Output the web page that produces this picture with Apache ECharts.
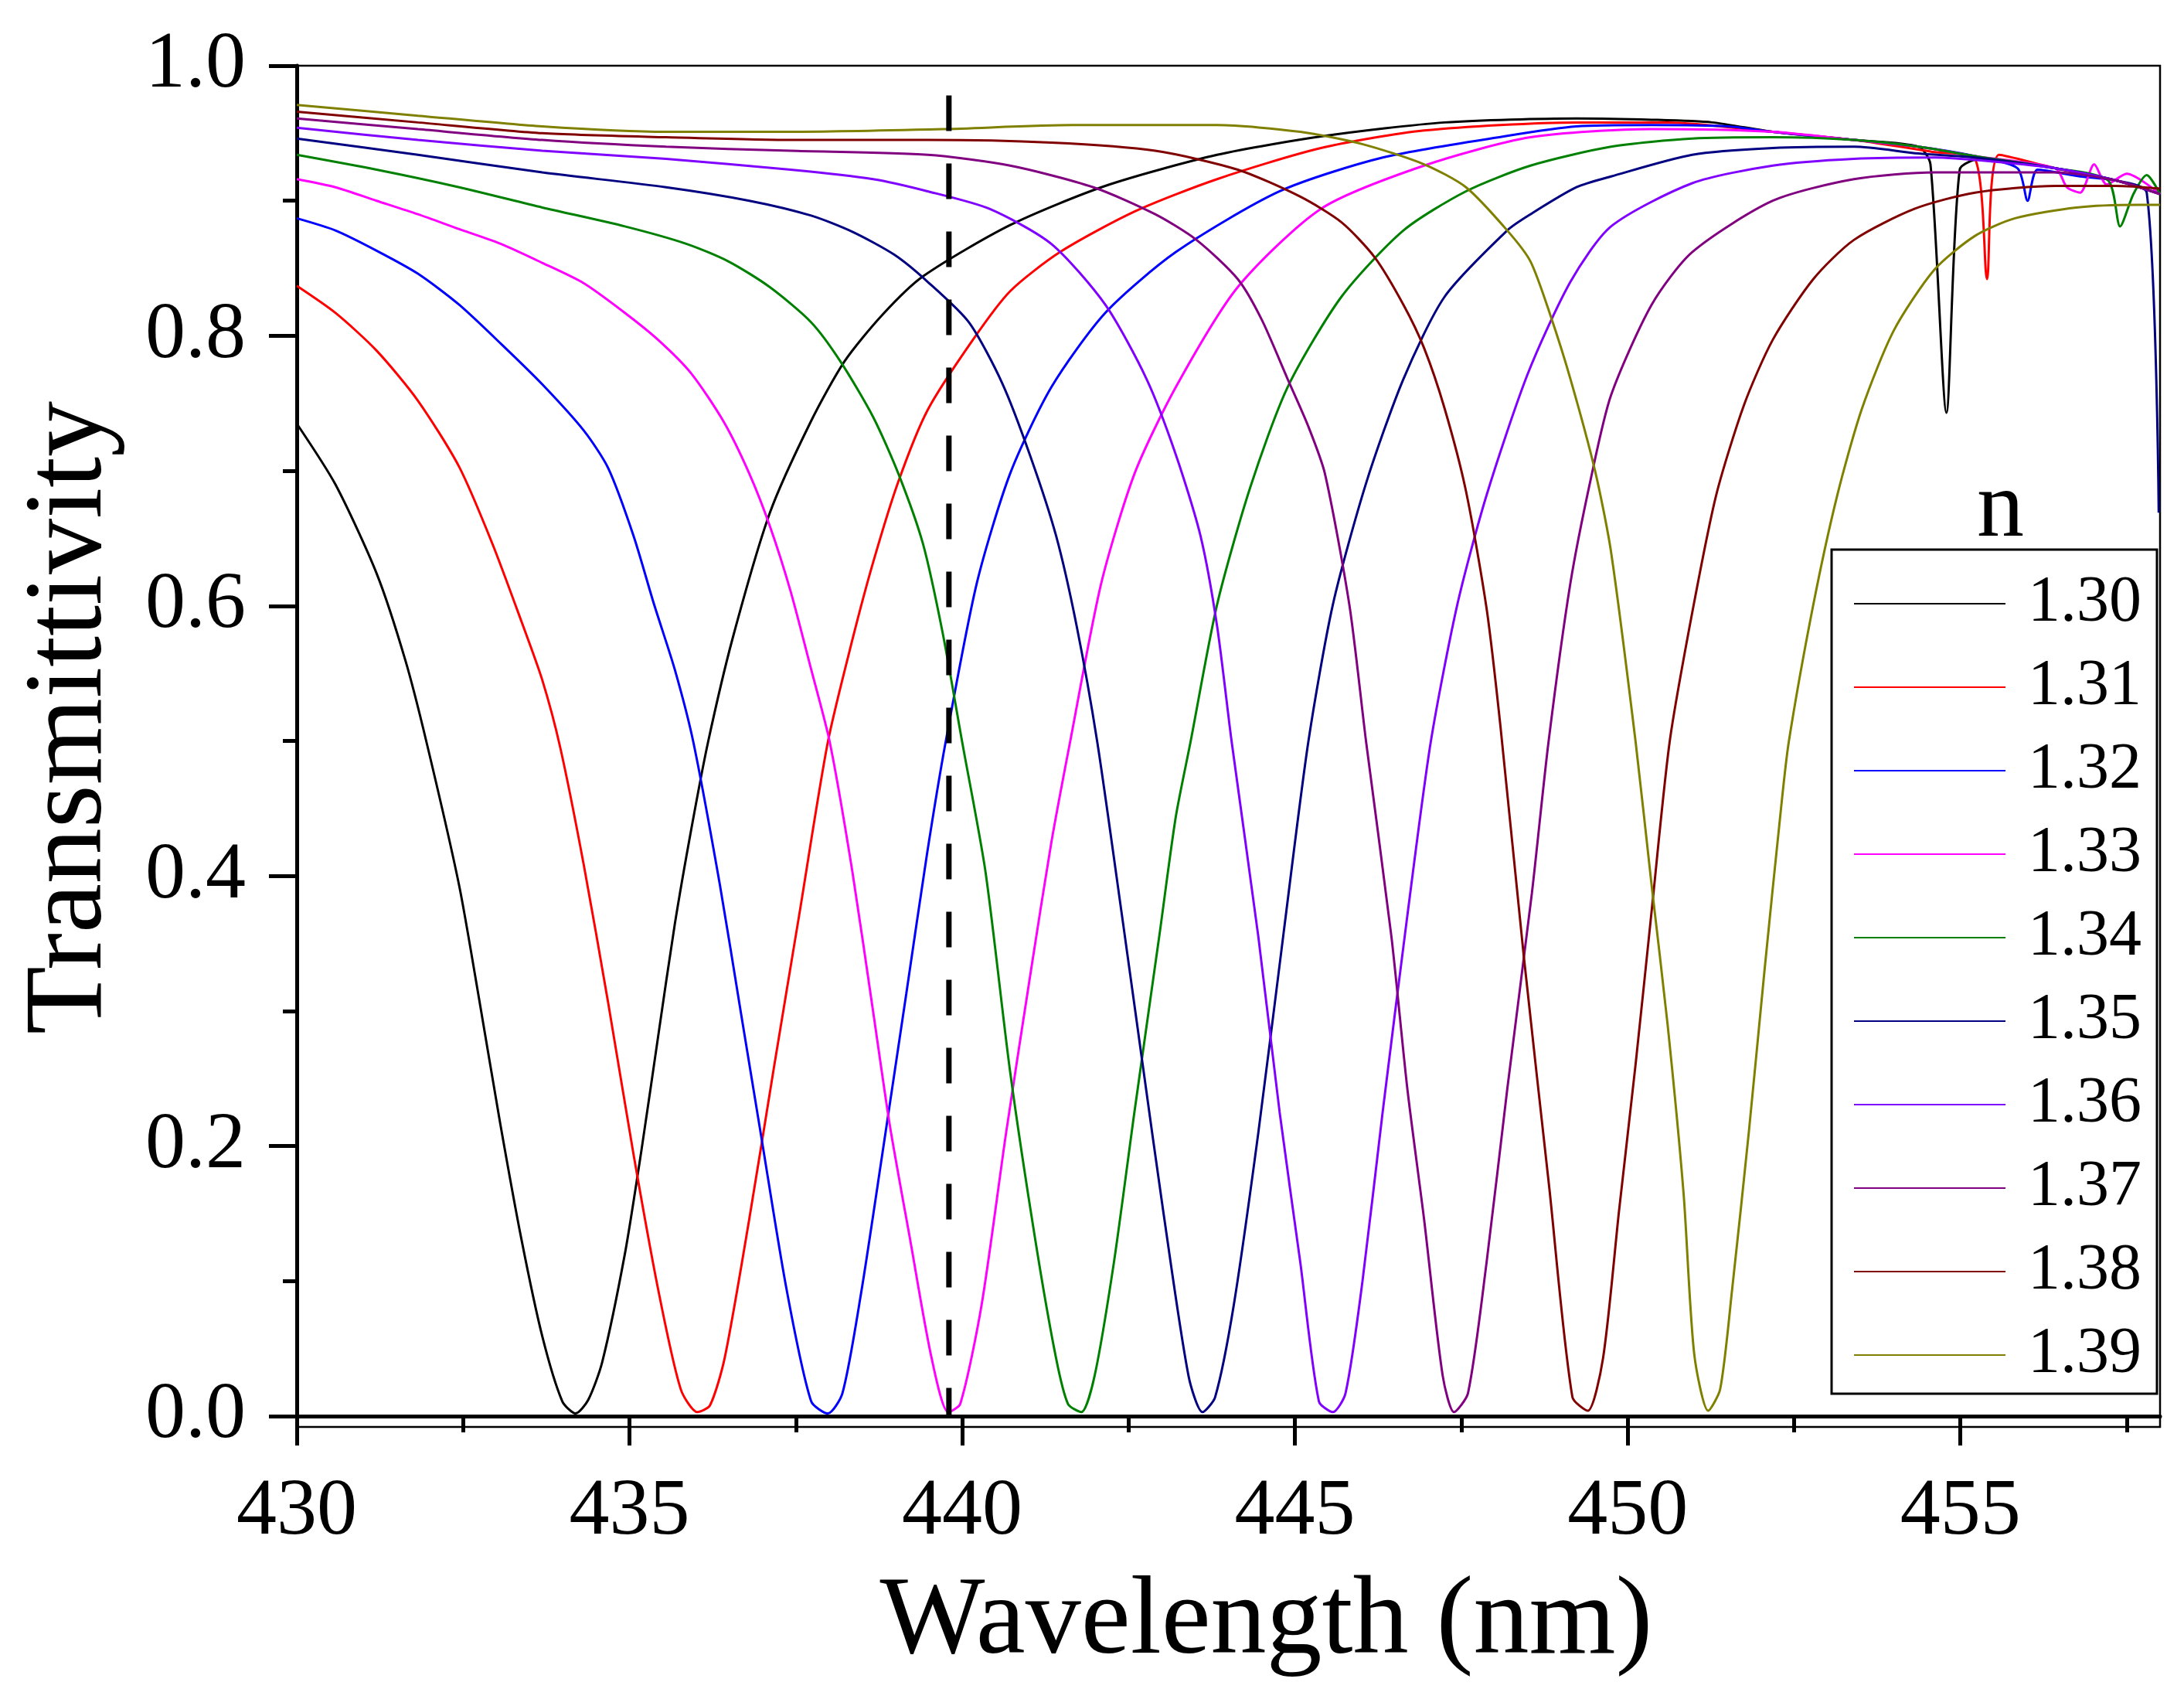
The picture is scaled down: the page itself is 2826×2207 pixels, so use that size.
<!DOCTYPE html>
<html>
<head>
<meta charset="utf-8">
<title>Transmittivity</title>
<script src="https://cdn.jsdelivr.net/npm/echarts@6/dist/echarts.min.js"></script>
<style>
    html, body {margin: 0; padding: 0; background: #fff;}
    #main {width: 2826px; height: 2207px;}
</style>
</head>
<body>
<div id="main"></div>
<script>
// legend names (refractive index n)
var nLabels = ['1.30', '1.31', '1.32', '1.33', '1.34', '1.35', '1.36', '1.37', '1.38', '1.39'];

// wavelength (nm) / transmittivity per curve
var wl130 = [430.0, 430.58, 431.2, 431.63, 431.95, 432.44, 432.75, 433.06, 433.38, 433.69, 433.99, 434.19, 434.38, 434.59, 434.93, 435.18, 435.43, 435.68, 435.93, 436.18, 436.55, 437.11, 437.73, 438.23, 438.79, 439.41, 440.72, 442.15, 443.83, 445.45, 447.25, 449.23, 450.36, 451.27, 452.18, 453.4, 454.37, 454.55, 454.79, 454.99, 455.3, 456.43, 457.34, 458.0];
var tr130 = [0.735, 0.690, 0.624, 0.560, 0.499, 0.393, 0.306, 0.216, 0.130, 0.059, 0.011, 0.002, 0.012, 0.040, 0.120, 0.197, 0.281, 0.364, 0.435, 0.499, 0.576, 0.669, 0.737, 0.781, 0.815, 0.844, 0.882, 0.911, 0.934, 0.948, 0.958, 0.961, 0.960, 0.958, 0.951, 0.945, 0.940, 0.927, 0.743, 0.923, 0.931, 0.924, 0.915, 0.905];

var wl131 = [430.0, 430.58, 431.2, 431.82, 432.44, 432.94, 433.38, 433.69, 433.96, 434.31, 434.68, 435.06, 435.43, 435.77, 436.02, 436.21, 436.43, 436.8, 437.17, 437.55, 437.98, 438.35, 438.66, 439.04, 439.48, 440.16, 440.72, 441.47, 442.59, 443.83, 445.39, 446.94, 449.23, 450.6, 452.18, 453.4, 454.61, 455.22, 455.4, 455.58, 456.43, 457.34, 458.0];
var tr131 = [0.837, 0.817, 0.789, 0.752, 0.703, 0.646, 0.588, 0.545, 0.495, 0.409, 0.306, 0.194, 0.094, 0.020, 0.003, 0.008, 0.043, 0.146, 0.258, 0.371, 0.499, 0.575, 0.632, 0.692, 0.745, 0.797, 0.833, 0.862, 0.892, 0.916, 0.939, 0.952, 0.958, 0.958, 0.951, 0.945, 0.936, 0.931, 0.842, 0.934, 0.924, 0.915, 0.905];

var wl132 = [430.0, 430.58, 431.2, 431.82, 432.44, 433.07, 433.69, 434.31, 434.68, 435.06, 435.37, 435.68, 435.96, 436.36, 436.67, 436.99, 437.36, 437.73, 437.98, 438.2, 438.48, 438.79, 439.16, 439.47, 439.75, 440.22, 440.72, 441.34, 442.15, 443.21, 444.77, 446.32, 448.19, 449.23, 450.36, 451.5, 452.18, 453.4, 454.37, 455.22, 455.86, 456.01, 456.16, 456.8, 457.34, 458.0];
var tr132 = [0.887, 0.878, 0.863, 0.846, 0.823, 0.794, 0.764, 0.730, 0.702, 0.652, 0.601, 0.553, 0.499, 0.393, 0.300, 0.204, 0.094, 0.011, 0.002, 0.017, 0.091, 0.191, 0.313, 0.416, 0.499, 0.617, 0.698, 0.762, 0.817, 0.862, 0.907, 0.932, 0.948, 0.955, 0.956, 0.955, 0.951, 0.945, 0.940, 0.933, 0.924, 0.900, 0.923, 0.918, 0.915, 0.905];

var wl133 = [430.0, 430.58, 431.2, 431.82, 432.44, 433.07, 433.69, 434.31, 434.93, 435.43, 435.93, 436.42, 436.8, 437.11, 437.42, 437.73, 438.01, 438.35, 438.66, 438.91, 439.22, 439.54, 439.79, 439.97, 440.29, 440.66, 441.03, 441.34, 441.62, 442.09, 442.59, 443.21, 444.14, 445.39, 446.94, 448.54, 450.36, 452.18, 453.4, 454.37, 455.22, 456.43, 456.6, 456.8, 457.01, 457.2, 457.5, 458.0];
var tr133 = [0.916, 0.910, 0.900, 0.890, 0.879, 0.868, 0.854, 0.839, 0.817, 0.797, 0.772, 0.736, 0.698, 0.659, 0.611, 0.553, 0.499, 0.403, 0.300, 0.216, 0.130, 0.043, 0.003, 0.009, 0.082, 0.210, 0.329, 0.425, 0.499, 0.617, 0.698, 0.762, 0.836, 0.894, 0.926, 0.947, 0.953, 0.951, 0.945, 0.940, 0.933, 0.924, 0.910, 0.906, 0.927, 0.912, 0.920, 0.905];

var wl134 = [430.0, 431.2, 432.44, 433.69, 434.93, 435.86, 436.49, 437.11, 437.73, 438.17, 438.66, 439.04, 439.41, 439.71, 440.0, 440.35, 440.72, 441.1, 441.41, 441.59, 441.79, 441.99, 442.28, 442.59, 442.96, 443.21, 443.43, 443.83, 444.33, 444.89, 445.7, 446.63, 447.57, 448.54, 449.75, 450.97, 452.18, 453.4, 454.37, 455.22, 456.43, 457.22, 457.4, 457.6, 457.8, 458.0];
var tr134 = [0.934, 0.923, 0.910, 0.895, 0.881, 0.868, 0.855, 0.836, 0.810, 0.781, 0.740, 0.698, 0.646, 0.579, 0.499, 0.403, 0.255, 0.130, 0.043, 0.009, 0.003, 0.030, 0.114, 0.226, 0.355, 0.444, 0.499, 0.601, 0.688, 0.762, 0.829, 0.878, 0.907, 0.926, 0.940, 0.946, 0.947, 0.945, 0.940, 0.933, 0.924, 0.915, 0.881, 0.905, 0.919, 0.905];

var wl135 = [430.0, 431.82, 433.69, 435.55, 436.8, 437.73, 438.35, 438.98, 439.48, 440.1, 440.6, 441.03, 441.41, 441.72, 442.03, 442.4, 442.71, 443.02, 443.4, 443.61, 443.8, 444.08, 444.45, 444.83, 445.2, 445.57, 446.07, 446.63, 447.25, 448.19, 448.54, 449.23, 449.75, 450.97, 452.18, 453.4, 454.37, 455.22, 456.43, 457.34, 457.8, 457.98];
var tr135 = [0.946, 0.934, 0.921, 0.910, 0.900, 0.889, 0.877, 0.860, 0.840, 0.810, 0.765, 0.710, 0.652, 0.585, 0.499, 0.371, 0.261, 0.152, 0.030, 0.003, 0.014, 0.082, 0.210, 0.358, 0.499, 0.601, 0.691, 0.768, 0.829, 0.878, 0.890, 0.910, 0.918, 0.934, 0.939, 0.940, 0.935, 0.932, 0.924, 0.915, 0.906, 0.669];

var wl136 = [430.0, 431.82, 433.69, 435.55, 437.42, 438.66, 439.48, 440.41, 441.34, 442.15, 442.77, 443.21, 443.58, 443.83, 444.05, 444.45, 444.77, 445.08, 445.36, 445.57, 445.76, 446.01, 446.32, 446.69, 447.04, 447.44, 447.88, 448.5, 449.14, 449.75, 450.97, 452.18, 453.4, 454.61, 455.5, 456.43, 457.34, 458.0];
var tr136 = [0.954, 0.945, 0.937, 0.931, 0.923, 0.916, 0.907, 0.894, 0.868, 0.823, 0.768, 0.712, 0.652, 0.585, 0.499, 0.355, 0.225, 0.114, 0.011, 0.003, 0.017, 0.098, 0.226, 0.371, 0.499, 0.601, 0.682, 0.772, 0.840, 0.881, 0.913, 0.926, 0.931, 0.932, 0.929, 0.924, 0.915, 0.905];

var wl137 = [430.0, 431.82, 433.69, 435.55, 437.42, 439.48, 440.72, 441.97, 442.9, 443.52, 444.14, 444.5, 444.89, 445.2, 445.45, 445.82, 446.07, 446.45, 446.69, 446.94, 447.22, 447.39, 447.6, 447.88, 448.19, 448.56, 448.81, 449.14, 449.45, 449.75, 450.36, 450.97, 452.18, 453.4, 454.61, 456.43, 457.34, 458.0];
var tr137 = [0.961, 0.953, 0.945, 0.940, 0.937, 0.934, 0.926, 0.910, 0.890, 0.871, 0.842, 0.812, 0.768, 0.733, 0.698, 0.600, 0.499, 0.355, 0.242, 0.146, 0.030, 0.003, 0.017, 0.114, 0.242, 0.387, 0.499, 0.617, 0.695, 0.756, 0.823, 0.862, 0.900, 0.916, 0.921, 0.921, 0.915, 0.905];

var wl138 = [430.0, 431.82, 433.69, 435.55, 437.42, 439.48, 441.34, 442.9, 444.14, 445.08, 445.7, 446.2, 446.63, 446.94, 447.25, 447.57, 447.88, 448.09, 448.44, 448.82, 449.17, 449.4, 449.63, 449.87, 450.12, 450.36, 450.63, 450.97, 451.33, 451.75, 452.18, 452.79, 453.4, 454.31, 455.22, 456.43, 457.34, 458.0];
var tr138 = [0.966, 0.958, 0.950, 0.947, 0.945, 0.945, 0.943, 0.937, 0.923, 0.903, 0.884, 0.858, 0.823, 0.791, 0.746, 0.685, 0.598, 0.510, 0.340, 0.170, 0.014, 0.004, 0.043, 0.152, 0.261, 0.374, 0.499, 0.595, 0.682, 0.749, 0.797, 0.842, 0.871, 0.894, 0.906, 0.911, 0.911, 0.909];

var wl139 = [430.0, 431.82, 433.69, 435.55, 437.42, 439.71, 441.65, 443.83, 445.08, 446.01, 446.94, 447.57, 448.19, 448.54, 448.84, 449.14, 449.51, 449.75, 450.12, 450.36, 450.6, 450.84, 451.0, 451.21, 451.39, 451.57, 451.82, 452.06, 452.3, 452.42, 452.79, 453.15, 453.52, 454.0, 454.61, 455.22, 455.82, 456.74, 457.65, 458.0];
var tr139 = [0.971, 0.963, 0.955, 0.951, 0.951, 0.953, 0.956, 0.956, 0.951, 0.942, 0.927, 0.910, 0.878, 0.855, 0.815, 0.768, 0.700, 0.640, 0.499, 0.393, 0.290, 0.165, 0.046, 0.004, 0.020, 0.094, 0.210, 0.332, 0.448, 0.499, 0.601, 0.682, 0.746, 0.804, 0.849, 0.874, 0.887, 0.895, 0.897, 0.897];

// vertical dashed reference line
var markWl = [439.8, 439.8];
var markTr = [0.978, 0.0];

// axis ticks
var xMajor = [430, 435, 440, 445, 450, 455];
var xMinor = [432.5, 437.5, 442.5, 447.5, 452.5, 457.5];
var yMajor = [0, 0.2, 0.4, 0.6, 0.8, 1.0];
var yMinor = [0.1, 0.3, 0.5, 0.7, 0.9];

var allWl = [wl130, wl131, wl132, wl133, wl134, wl135, wl136, wl137, wl138, wl139];
var allTr = [tr130, tr131, tr132, tr133, tr134, tr135, tr136, tr137, tr138, tr139];
var lineColors = ['#000000', '#ff0000', '#0000ff', '#ff00ff', '#008000', '#000080', '#8000ff', '#800080', '#800000', '#808000'];

var fontFam = '"Liberation Serif", "Times New Roman", serif';

function pairs(xs, ys) {
    var out = [];
    for (var i = 0; i < xs.length; i++) {
        out.push([xs[i], ys[i]]);
    }
    return out;
}

var seriesList = [];
for (var k = 0; k < nLabels.length; k++) {
    seriesList.push({
        name: nLabels[k],
        type: 'line',
        symbol: 'none',
        smooth: 0.25,
        data: pairs(allWl[k], allTr[k]),
        lineStyle: {width: 3, color: lineColors[k]},
        itemStyle: {color: lineColors[k]},
        z: 2
    });
}
seriesList.push({
    name: 'mark',
    type: 'line',
    symbol: 'none',
    data: pairs(markWl, markTr),
    lineStyle: {width: 7, color: '#000', type: [46, 42]},
    z: 5
});

var myChart = echarts.init(document.getElementById('main'));
myChart.setOption({
    animation: false,
    backgroundColor: '#fff',
    grid: {
        left: 384, right: 31, top: 85, bottom: 361,
        show: true,
        borderColor: '#000',
        borderWidth: 2.5
    },
    legend: {
        data: nLabels,
        orient: 'vertical',
        left: 2370,
        top: 711,
        padding: [28, 20, 8, 28],
        borderColor: '#000',
        borderWidth: 3,
        itemWidth: 196,
        itemHeight: 20,
        itemGap: 24,
        itemStyle: {opacity: 0},
        textStyle: {
            fontFamily: fontFam,
            fontSize: 84,
            lineHeight: 84,
            color: '#000',
            padding: [0, 0, 0, 24]
        }
    },
    graphic: [{
        type: 'text',
        left: 2558,
        top: 600,
        style: {
            text: 'n',
            fontFamily: fontFam,
            fontSize: 122,
            fill: '#000'
        }
    }],
    xAxis: [{
        type: 'value',
        min: 430,
        max: 458,
        position: 'bottom',
        name: 'Wavelength (nm)',
        nameLocation: 'middle',
        nameGap: 182,
        nameTextStyle: {fontFamily: fontFam, fontSize: 144, color: '#000', padding: [0, 0, 0, 98]},
        axisLine: {lineStyle: {color: '#000', width: 5}},
        axisTick: {customValues: xMajor, length: 38, lineStyle: {width: 5, color: '#000'}},
        axisLabel: {customValues: xMajor, margin: 59, fontFamily: fontFam, fontSize: 104, color: '#000'},
        splitLine: {show: false}
    }, {
        type: 'value',
        min: 430,
        max: 458,
        position: 'bottom',
        axisLine: {show: false},
        axisTick: {customValues: xMinor, length: 21, lineStyle: {width: 5, color: '#000'}},
        axisLabel: {show: false},
        splitLine: {show: false}
    }],
    yAxis: [{
        type: 'value',
        min: -0.008,
        max: 1.0,
        position: 'left',
        name: 'Transmittivity',
        nameLocation: 'middle',
        nameGap: 220,
        nameTextStyle: {fontFamily: fontFam, fontSize: 144, color: '#000', padding: [0, 0, 0, 74]},
        axisLine: {lineStyle: {color: '#000', width: 5}},
        axisTick: {customValues: yMajor, length: 36, lineStyle: {width: 5, color: '#000'}},
        axisLabel: {
            customValues: yMajor,
            margin: 66,
            fontFamily: fontFam,
            fontSize: 104,
            color: '#000',
            formatter: function (v) { return v.toFixed(1); }
        },
        splitLine: {show: false}
    }, {
        type: 'value',
        min: -0.008,
        max: 1.0,
        position: 'left',
        axisLine: {show: false},
        axisTick: {customValues: yMinor, length: 18, lineStyle: {width: 5, color: '#000'}},
        axisLabel: {show: false},
        splitLine: {show: false}
    }],
    series: seriesList
});
</script>
</body>
</html>
